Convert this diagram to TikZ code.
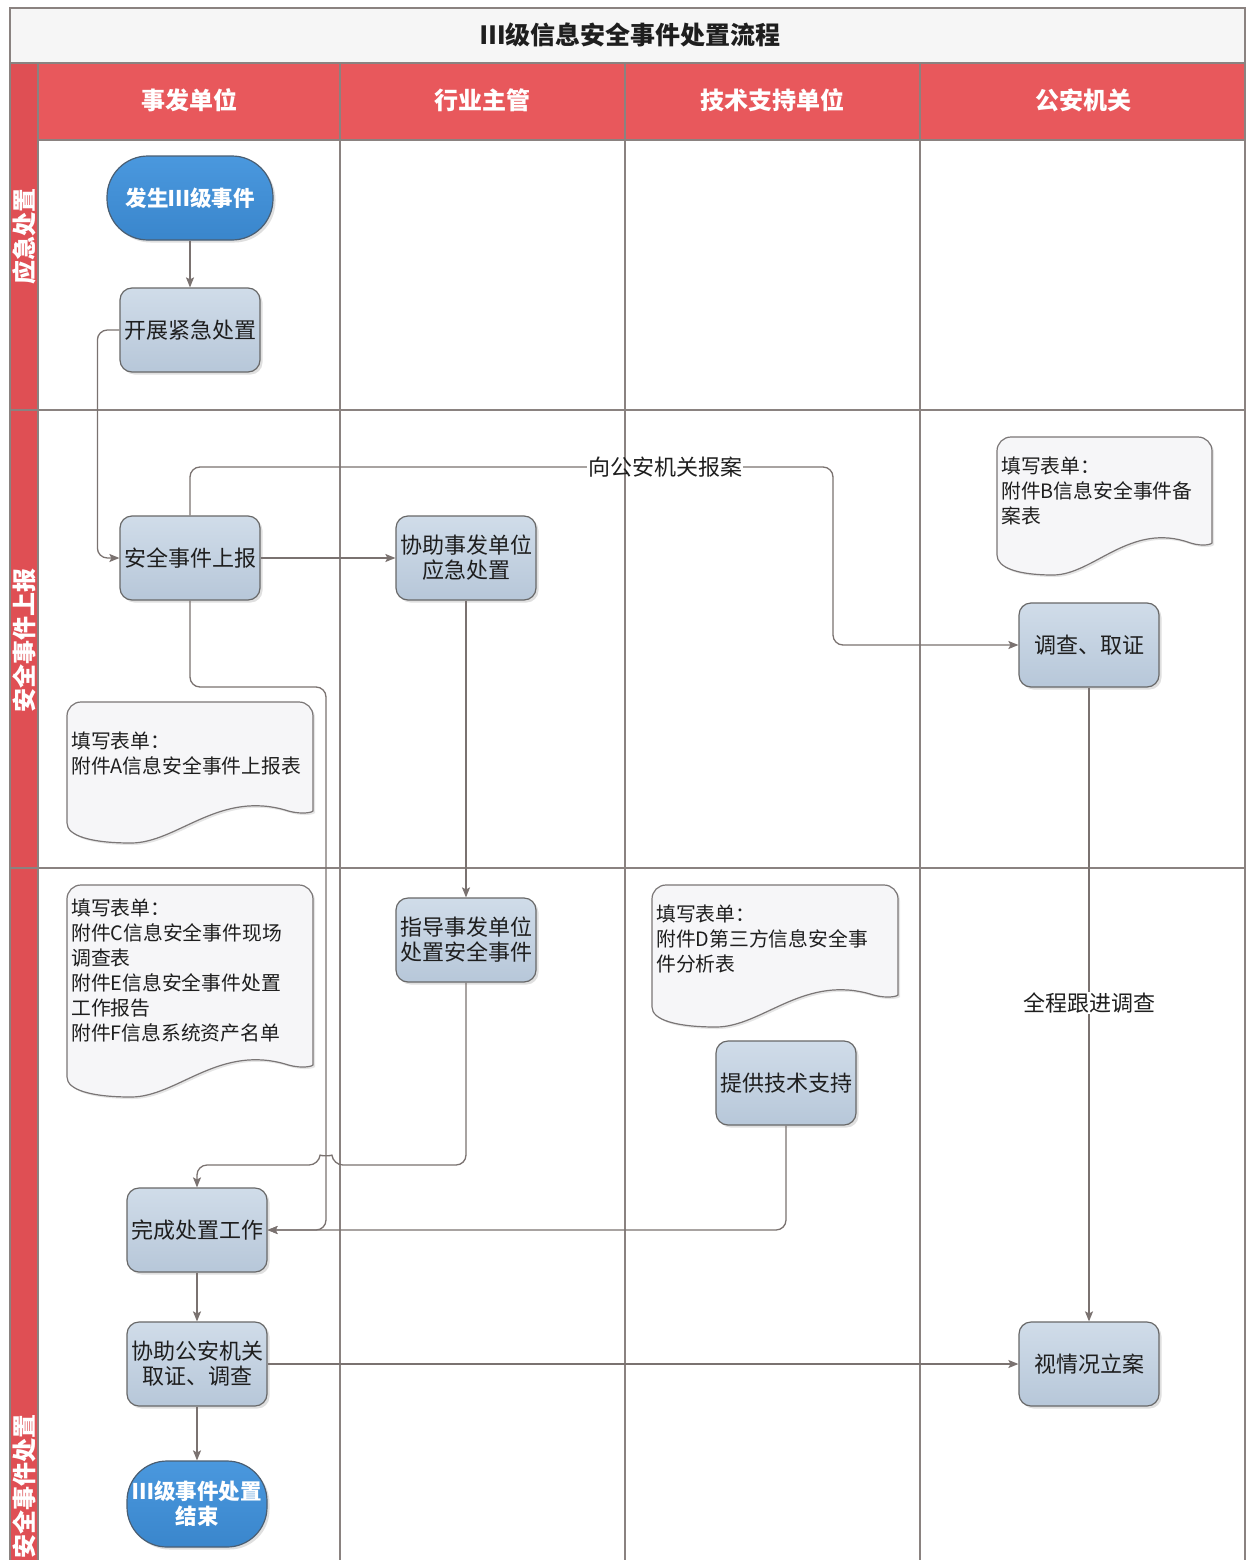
\documentclass[tikz,border=0pt]{standalone}
\usepackage{fontspec}
\setmainfont{Noto Sans CJK SC}
\usetikzlibrary{shadows,arrows.meta}
\definecolor{hdrC}{HTML}{E8585C}
\definecolor{bandC}{HTML}{DF4F54}
\definecolor{laneC}{HTML}{8A8280}
\definecolor{connC}{HTML}{7A7270}
\definecolor{procT}{HTML}{D0DCE9}
\definecolor{procB}{HTML}{B7C7D9}
\definecolor{procD}{HTML}{686868}
\definecolor{termT}{HTML}{4A98DE}
\definecolor{termB}{HTML}{3A86CC}
\definecolor{termD}{HTML}{4A5E72}
\definecolor{docF}{HTML}{F6F6F8}
\definecolor{docD}{HTML}{7A7676}
\definecolor{txt}{HTML}{1E1E1E}
\definecolor{titleF}{HTML}{F6F6F6}
\newcommand\docshape[4]{%
  \pgfmathsetmacro\dw{#3-#1}%
  \draw[doc] (#1,#4-20) [rounded corners=14pt] -- (#1,#2) -- (#3,#2) -- (#3,#4-46) [sharp corners]
   .. controls (#3,#4-31) and (#3-0.04*\dw,#4-28) .. (#3-0.10*\dw,#4-32)
   .. controls (#1+0.62*\dw,#4-54) and (#1+0.45*\dw,#4) .. (#1+0.26*\dw,#4)
   .. controls (#1+0.10*\dw,#4) and (#1,#4-7) .. cycle;}
\begin{document}
\begin{tikzpicture}[x=1pt,y=-1pt,
  lane/.style={draw=laneC, line width=2pt},
  proc/.style={draw=procD, line width=1.2pt, rounded corners=12pt, minimum width=140pt, minimum height=84pt, top color=procT, bottom color=procB, drop shadow={opacity=0.25, shadow xshift=2.5pt, shadow yshift=-2.5pt}, font=\fontsize{22}{25}\selectfont, text=txt, align=center, inner sep=1pt},
  term/.style={proc, top color=termT, bottom color=termB, draw=termD, text=white, font=\bfseries\fontsize{21.5}{25}\selectfont},
  doc/.style={draw=docD, line width=1.2pt, fill=docF, drop shadow={opacity=0.2, shadow xshift=2pt, shadow yshift=-2pt}},
  doctext/.style={anchor=north west, inner sep=0pt, align=left, font=\fontsize{19.8}{25}\selectfont, text=txt},
  conn/.style={draw=connC, line width=1.3pt, rounded corners=10pt, -{Stealth[length=10pt,width=8pt,inset=2pt]}},
  connn/.style={draw=connC, line width=1.3pt, rounded corners=10pt},
  hdrtext/.style={text=white, font=\bfseries\fontsize{24}{28}\selectfont},
  bandtext/.style={text=white, font=\bfseries\fontsize{24}{28}\selectfont, rotate=90},
  lbl/.style={font=\fontsize{22}{25}\selectfont, text=txt, inner sep=1pt}
]
\useasboundingbox (0,0) rectangle (1255,1560);
\fill[white] (0,0) rectangle (1255,1560);
% title
\filldraw[fill=titleF, draw=laneC, line width=2pt] (10,8) rectangle (1245,63);
\node[font=\bfseries\fontsize{25}{30}\selectfont, text=txt] (title) at (630,35) {Ⅲ级信息安全事件处置流程};
% header and band
\fill[hdrC] (38,63) rectangle (1245,140);
\fill[bandC] (10,63) rectangle (38,1560);
\foreach \xx in {10,38,340,625,920,1245} \draw[lane] (\xx,63) -- (\xx,1560);
\draw[lane] (38,140) -- (1245,140);
\draw[lane] (10,410) -- (1245,410);
\draw[lane] (10,868) -- (1245,868);
\draw[lane] (10,63) -- (1245,63);
\node[hdrtext] (h1) at (189,100) {事发单位};
\node[hdrtext] (h2) at (482,100) {行业主管};
\node[hdrtext] (h3) at (772,100) {技术支持单位};
\node[hdrtext] (h4) at (1083,100) {公安机关};
\node[bandtext] (b1) at (24,236) {应急处置};
\node[bandtext] (b2) at (24,640) {安全事件上报};
\node[bandtext] (b3) at (24,1486) {安全事件处置};
% documents
\docshape{67}{702}{313}{843}
\docshape{997}{437}{1212}{575}
\docshape{67}{885}{313}{1097}
\docshape{652}{885}{898}{1027}
\node[doctext] (docA) at (71,732) {填写表单：\\附件A信息安全事件上报表};
\node[doctext] (docB) at (1001,457) {填写表单：\\附件B信息安全事件备\\案表};
\node[doctext] (docC) at (71,899) {填写表单：\\附件C信息安全事件现场\\调查表\\附件E信息安全事件处置\\工作报告\\附件F信息系统资产名单};
\node[doctext] (docD) at (656,905) {填写表单：\\附件D第三方信息安全事\\件分析表};
% process nodes
\node[term, minimum width=166pt, rounded corners=41pt] (start) at (190,198) {发生Ⅲ级事件};
\node[proc] (urgent) at (190,330) {开展紧急处置};
\node[proc] (report) at (190,558) {安全事件上报};
\node[proc] (assist) at (466,558) {协助事发单位\\应急处置};
\node[proc] (inv) at (1089,645) {调查、取证};
\node[proc] (guide) at (466,940) {指导事发单位\\处置安全事件};
\node[proc] (support) at (786,1083) {提供技术支持};
\node[proc] (complete) at (197,1230) {完成处置工作};
\node[proc] (helpPolice) at (197,1364) {协助公安机关\\取证、调查};
\node[term, rounded corners=40pt, minimum height=86pt] (finish) at (197,1504) {Ⅲ级事件处置\\结束};
\node[proc] (case) at (1089,1364) {视情况立案};
% labels
\node[lbl] (lblPolice) at (665,467) {向公安机关报案};
\node[lbl] (track) at (1089,1003) {全程跟进调查};
% connectors
\draw[conn] (start) -- (urgent);
\draw[conn] (urgent.west) -- ++(-22,0) |- (report.west);
\draw[conn] (report) -- (assist);
\draw[connn] (report.north) |- (lblPolice.west);
\draw[conn] (lblPolice.east) -- (833,467) |- (inv.west);
\draw[conn] (report.south) |- (326,687) |- (complete.east);
\draw[conn] (assist) -- (guide);
\draw[conn] (guide.south) |- (333,1165) .. controls (332,1156) and (320,1156) .. (319,1165) -| (complete.north);
\draw[conn] (support.south) |- (complete.east);
\draw[conn] (complete) -- (helpPolice);
\draw[conn] (helpPolice) -- (finish);
\draw[conn] (helpPolice) -- (case);
\draw[connn] (inv) -- (track);
\draw[conn] (track) -- (case);
\end{tikzpicture}
\end{document}
